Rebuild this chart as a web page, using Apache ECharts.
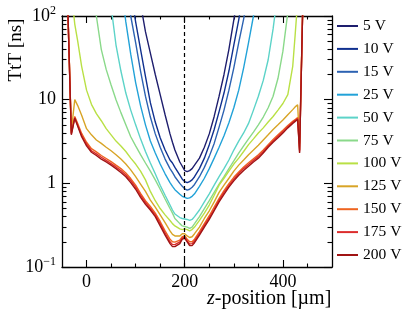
<!DOCTYPE html>
<html><head><meta charset="utf-8">
<script src="https://cdn.jsdelivr.net/npm/echarts@6/dist/echarts.min.js"></script>
<style>html,body{margin:0;padding:0;background:#fff}#c{width:415px;height:318px}</style>
</head><body><div id="c"></div>
<script>
// z-positions [µm]
const Z = [-40,-31,-24,-18,-10,0,10,20,30,40,50,60,70,80,90,100,110,120,130,140,150,160,170,175,180,190,195,200,205,210,215,220,230,240,250,260,270,280,290,300,310,320,330,340,350,360,370,380,390,400,410,420,425,430,434,440,445];
const n = null;
// TtT [ns] per bias voltage (aligned with Z)
const V5   = [n,n,n,n,n,n,n,n,n,n,n,n,n,n,n,n,140,65,36,20,11.5,6.6,3.9,3.1,2.5,1.8,1.6,1.42,1.38,1.42,1.5,1.65,2.0,2.7,3.9,6.3,11,20,40,90,200,n,n,n,n,n,n,n,n,n,n,n,n,n,n,n,n];
const V10  = [n,n,n,n,n,n,n,n,n,n,n,n,n,n,200,85,40,19,9.2,5.4,3.5,2.5,1.9,1.75,1.55,1.25,1.12,1.05,1.02,1.05,1.1,1.2,1.5,2.0,2.9,4.4,7.2,12,22,45,90,200,n,n,n,n,n,n,n,n,n,n,n,n,n,n,n];
const V15  = [n,n,n,n,n,n,n,n,n,n,n,n,n,200,100,48,22,11,6.2,3.9,2.7,1.95,1.5,1.35,1.2,1.0,0.92,0.86,0.83,0.85,0.9,0.97,1.2,1.55,2.1,3.0,4.7,7.5,13,24,48,92,200,n,n,n,n,n,n,n,n,n,n,n,n,n,n];
const V25  = [n,n,n,n,n,n,n,n,n,n,n,n,250,85,35,16,8.5,5.0,3.2,2.3,1.7,1.3,1.02,0.92,0.84,0.74,0.7,0.68,0.66,0.67,0.7,0.75,0.92,1.15,1.5,2.0,2.7,3.7,5.3,8.0,13,24,48,100,200,n,n,n,n,n,n,n,n,n,n,n,n];
const V50  = [n,n,n,n,n,n,n,n,n,n,130,45,22,12,7.5,5.0,3.4,2.4,1.75,1.3,0.95,0.72,0.55,0.48,0.43,0.39,0.38,0.375,0.37,0.36,0.37,0.4,0.48,0.6,0.75,0.95,1.2,1.5,1.9,2.5,3.2,4.0,5.2,7.5,11,17,30,70,200,n,n,n,n,n,n,n,n];
const V75  = [n,n,n,n,n,n,250,100,40,23,15,10,7,5,3.6,2.8,2.2,1.75,1.4,1.1,0.85,0.65,0.5,0.44,0.38,0.33,0.31,0.305,0.3,0.29,0.3,0.33,0.4,0.5,0.62,0.78,0.98,1.2,1.5,1.85,2.3,2.8,3.4,4.1,5.0,6.2,8.0,11,18,38,110,300,n,n,n,n,n];
const V100 = [n,200,80,50,25,13,8.8,6.8,5.6,4.5,3.8,3.2,2.8,2.4,2.0,1.7,1.4,1.1,0.8,0.62,0.5,0.42,0.36,0.33,0.31,0.285,0.28,0.285,0.28,0.27,0.28,0.3,0.36,0.44,0.55,0.72,0.95,1.15,1.4,1.7,2.0,2.4,2.9,3.4,4.0,4.6,5.4,6.3,7.5,9,11.5,25,60,150,n,n,n];
const V125 = [300,4.2,10,8.5,6.5,4.5,3.8,3.3,3.0,2.7,2.45,2.2,1.95,1.7,1.45,1.2,0.98,0.8,0.63,0.52,0.42,0.34,0.27,0.245,0.235,0.235,0.25,0.25,0.235,0.225,0.23,0.25,0.3,0.38,0.47,0.6,0.78,0.95,1.15,1.4,1.65,1.9,2.2,2.5,2.85,3.3,3.8,4.4,5.0,5.7,6.6,7.6,8.2,8.7,3.0,100,300];
const V150 = [300,4.0,6.3,5.2,3.95,3.1,2.6,2.38,2.15,1.98,1.82,1.65,1.5,1.33,1.14,0.95,0.76,0.62,0.53,0.44,0.35,0.27,0.215,0.2,0.198,0.21,0.23,0.235,0.215,0.2,0.2,0.215,0.265,0.33,0.41,0.52,0.66,0.82,0.99,1.18,1.37,1.57,1.76,1.97,2.2,2.5,2.9,3.35,3.8,4.3,4.9,5.5,5.8,6.1,2.5,100,300];
const V175 = [300,3.9,6.1,4.95,3.75,2.95,2.45,2.25,2.05,1.88,1.72,1.57,1.42,1.26,1.08,0.9,0.72,0.59,0.5,0.42,0.33,0.255,0.2,0.185,0.185,0.2,0.222,0.225,0.205,0.188,0.19,0.205,0.25,0.315,0.39,0.49,0.63,0.78,0.94,1.12,1.31,1.5,1.68,1.88,2.1,2.4,2.8,3.2,3.65,4.15,4.75,5.35,5.65,5.95,2.4,100,300];
const V200 = [300,3.8,6.0,4.8,3.6,2.8,2.35,2.15,1.95,1.8,1.65,1.5,1.35,1.2,1.02,0.85,0.68,0.56,0.48,0.4,0.31,0.24,0.19,0.175,0.175,0.19,0.215,0.22,0.2,0.18,0.18,0.195,0.24,0.3,0.37,0.47,0.6,0.74,0.9,1.07,1.25,1.42,1.6,1.8,2.0,2.3,2.7,3.1,3.5,4.0,4.6,5.2,5.5,5.8,2.3,100,300];

const NAMES = ['5 V','10 V','15 V','25 V','50 V','75 V','100 V','125 V','150 V','175 V','200 V'];
const VALUES = [V5,V10,V15,V25,V50,V75,V100,V125,V150,V175,V200];
const COLORS = ['#1e1e6e','#10308f','#2c62b2','#22a2d8','#5cd3c8','#8ad98a','#b9e045','#d8a426','#ee6420','#dc2c2c','#a01414'];
const X_LABELS = [0,200,400];
const X_MINOR = [50,100,150,250,300,350,450];
const Y_MAJOR = [0.1,1,10,100];
const Y_MINOR = [0.2,0.3,0.4,0.5,0.6,0.7,0.8,0.9,2,3,4,5,6,7,8,9,20,30,40,50,60,70,80,90];

const FONT = 'Liberation Serif';
const black = {color:'#000', width:1.3};

function xAx(pos, major, labels) {
  return {
    type:'value', min:-50, max:500, position:pos,
    axisLine:{show:major, onZero:false, lineStyle:black},
    axisTick:{show:true, inside:true, length: major?7:3.5, customValues: major?X_LABELS:X_MINOR, lineStyle:{color:'#000',width:1.1}},
    axisLabel:{show:labels, customValues:X_LABELS, fontFamily:FONT, fontSize:18, color:'#000', margin:6},
    splitLine:{show:false}
  };
}
function yAx(pos, major, labels) {
  return {
    type:'log', logBase:10, min:0.1, max:100, position:pos,
    axisLine:{show:major, onZero:false, lineStyle:black},
    axisTick:{show:true, inside:true, length: major?8:4.5, customValues: major?Y_MAJOR:Y_MINOR, lineStyle:{color:'#000',width:1.1}},
    axisLabel:{show:labels, customValues:Y_MAJOR, margin:6, color:'#000',
      formatter: function(v){ const e = Math.round(Math.log10(v)); if(e===0) return '{b|1}'; if(e===1) return '{b|10}'; return '{b|10}{s|'+(e<0?'\u2212'+(-e):e)+'}'; },
      rich:{ b:{fontFamily:FONT, fontSize:18, color:'#000', lineHeight:22}, s:{fontFamily:FONT, fontSize:12, color:'#000', verticalAlign:'top', lineHeight:12} } },
    splitLine:{show:false}
  };
}

const series = NAMES.map((name,k)=>{
  const data = [];
  Z.forEach((z,i)=>{ if (VALUES[k][i] !== null) data.push([z, VALUES[k][i]]); });
  return {name, type:'line', data, xAxisIndex:0, yAxisIndex:0, symbol:'none', clip:true,
    lineStyle:{color:COLORS[k], width:1.4}, itemStyle:{color:COLORS[k]}};
});
series[series.length-1].markLine = {silent:true, symbol:'none', label:{show:false}, animation:false,
  lineStyle:{type:[4,3], color:'#000', width:1.2}, data:[{xAxis:200}]};

const chart = echarts.init(document.getElementById('c'), null, {renderer:'canvas'});
chart.setOption({
  animation:false,
  backgroundColor:'#fff',
  grid:{left:62, right:83, top:16, bottom:51, containLabel:false},
  xAxis:[xAx('bottom',true,true), xAx('bottom',false,false), xAx('top',true,false), xAx('top',false,false)],
  yAxis:[yAx('left',true,true), yAx('left',false,false), yAx('right',true,false), yAx('right',false,false)],
  legend:{orient:'vertical', left:337, top:18, icon:'rect', itemWidth:21, itemHeight:2, itemGap:6.9, padding:0,
    textStyle:{fontFamily:FONT, fontSize:15.5, color:'#000', lineHeight:16}, data:NAMES},
  title:{text:'{i|z}-position [\u00b5m]', left:207, top:289, padding:0,
    textStyle:{fontFamily:FONT, fontSize:20, fontWeight:'normal', color:'#000',
      rich:{i:{fontFamily:FONT, fontSize:20, fontStyle:'italic', color:'#000'}}}},
  graphic:[{type:'text', x:16, y:50, rotation:Math.PI/2,
    style:{text:'TtT [ns]', fontFamily:FONT, fontSize:19, fill:'#000', align:'center', verticalAlign:'middle'}}],
  series
});
</script></body></html>
